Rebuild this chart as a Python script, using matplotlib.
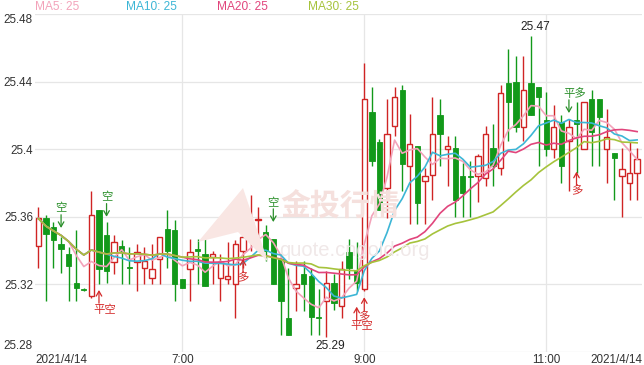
import matplotlib
matplotlib.use('Agg')
import matplotlib.pyplot as plt
import numpy as np
import pandas as pd
from matplotlib.patches import Rectangle, Polygon

# ---------------- data ----------------
opens = [25.343, 25.359, 25.354, 25.344, 25.338, 25.321, 25.3172, 25.313, 25.364, 25.349,
         25.333, 25.343, 25.3302, 25.333, 25.330, 25.324, 25.335, 25.353, 25.352, 25.323,
         25.329, 25.341, 25.338, 25.336, 25.324, 25.323, 25.320, 25.340, 25.354, 25.3584,
         25.351, 25.347, 25.335, 25.300, 25.318, 25.326, 25.325, 25.301, 25.310, 25.321,
         25.307, 25.339, 25.328, 25.317, 25.422, 25.404, 25.377, 25.414, 25.435, 25.390,
         25.402, 25.381, 25.385, 25.420, 25.400, 25.401, 25.384, 25.3842, 25.384, 25.383,
         25.401, 25.389, 25.439, 25.440, 25.413, 25.439, 25.437, 25.417, 25.400, 25.416,
         25.405, 25.417, 25.400, 25.430, 25.430, 25.400, 25.398, 25.384, 25.380, 25.386]
highs = [25.366, 25.361, 25.357, 25.348, 25.342, 25.352, 25.318, 25.375, 25.364, 25.357,
         25.349, 25.346, 25.342, 25.344, 25.342, 25.344, 25.348, 25.364, 25.358, 25.323,
         25.347, 25.347, 25.347, 25.340, 25.338, 25.345, 25.346, 25.356, 25.373, 25.366,
         25.355, 25.347, 25.338, 25.330, 25.334, 25.334, 25.330, 25.317, 25.328, 25.326,
         25.334, 25.347, 25.345, 25.451, 25.437, 25.406, 25.430, 25.437, 25.438, 25.421,
         25.402, 25.389, 25.431, 25.430, 25.408, 25.408, 25.392, 25.393, 25.397, 25.414,
         25.415, 25.438, 25.459, 25.455, 25.455, 25.467, 25.437, 25.434, 25.426, 25.420,
         25.418, 25.428, 25.428, 25.435, 25.430, 25.424, 25.398, 25.401, 25.404, 25.401]
lows = [25.330, 25.310, 25.330, 25.327, 25.310, 25.310, 25.316, 25.312, 25.320, 25.321,
        25.326, 25.320, 25.320, 25.316, 25.320, 25.320, 25.320, 25.330, 25.310, 25.318,
        25.310, 25.320, 25.319, 25.320, 25.310, 25.320, 25.300, 25.330, 25.340, 25.342,
        25.334, 25.320, 25.290, 25.290, 25.304, 25.304, 25.290, 25.290, 25.289, 25.305,
        25.300, 25.323, 25.316, 25.316, 25.390, 25.364, 25.359, 25.408, 25.375, 25.356,
        25.356, 25.356, 25.370, 25.390, 25.378, 25.360, 25.360, 25.360, 25.369, 25.378,
        25.378, 25.385, 25.405, 25.410, 25.405, 25.420, 25.390, 25.396, 25.395, 25.380,
        25.375, 25.386, 25.400, 25.390, 25.390, 25.380, 25.370, 25.360, 25.370, 25.370]
closes = [25.359, 25.350, 25.346, 25.341, 25.331, 25.318, 25.3168, 25.361, 25.329, 25.328,
          25.345, 25.340, 25.3298, 25.339, 25.334, 25.329, 25.348, 25.340, 25.320, 25.318,
          25.339, 25.340, 25.319, 25.338, 25.333, 25.325, 25.344, 25.348, 25.357, 25.3586,
          25.340, 25.320, 25.310, 25.290, 25.320, 25.320, 25.301, 25.300, 25.321, 25.309,
          25.329, 25.330, 25.321, 25.430, 25.393, 25.364, 25.409, 25.431, 25.391, 25.403,
          25.368, 25.384, 25.409, 25.409, 25.402, 25.370, 25.374, 25.3838, 25.396, 25.409,
          25.390, 25.433, 25.428, 25.413, 25.435, 25.420, 25.431, 25.400, 25.413, 25.390,
          25.413, 25.415, 25.428, 25.410, 25.419, 25.407, 25.395, 25.388, 25.386, 25.394]

start_time = '2021-04-14 05:25'
ma_periods = [5, 10, 20, 30]
ma_colors = ['#f3a3ba', '#3db6d6', '#e1457c', '#a6c33c']
legend_values = ['25', '25', '25', '25']
y_ticks = [25.28, 25.32, 25.36, 25.40, 25.44, 25.48]
y_tick_labels = ['25.28', '25.32', '25.36', '25.4', '25.44', '25.48']
x_tick_times = ['07:00', '09:00', '11:00']
x_tick_labels = ['7:00', '9:00', '11:00']
date_label = '2021/4/14'

# trading signals: (candle index, text, arrow direction, arrow tip price)
signals = [
    (3, '空', 'down', 25.3534),
    (9, '空', 'down', 25.3600),
    (8, '平空', 'up', 25.3167),
    (27, '多', 'up', 25.3350),
    (31, '空', 'down', 25.3569),
    (42, '平空', 'up', 25.3068),
    (43, '多', 'up', 25.3124),
    (70, '平多', 'down', 25.4214),
    (71, '多', 'up', 25.3867),
]

# ---------------- style ----------------
RED = '#d02424'
GREEN = '#12991a'
SIG_GREEN = '#2a8f2a'
SIG_RED = '#d42a2a'
W, H = 644, 365
FONT = ['Liberation Sans', 'DejaVu Sans']
CJK = ['Noto Sans CJK SC', 'DejaVu Sans']

fig = plt.figure(figsize=(W / 100, H / 100), dpi=100)
fig.patch.set_facecolor('white')

def fx(px):
    return px / W

def fy(py):
    return 1 - py / H

ax = fig.add_axes([fx(35), fy(352), fx(642) - fx(35), fy(14) - fy(352)])
ax.set_facecolor('none')

n = len(closes)
xs = np.arange(n)
times = pd.date_range(start_time, periods=n, freq='5min')

# watermark (faint logo + text)
fig.patches.append(Polygon([[fx(198), fy(242)], [fx(243), fy(188)], [fx(268), fy(262)],
                            [fx(238), fy(232)]],
                           closed=True, transform=fig.transFigure, facecolor='#f9e6e3',
                           edgecolor='none', zorder=0))
fig.text(fx(340), fy(207), '金投行情', fontsize=21.5, fontweight='bold', color='#f5e0dd',
         family=CJK, ha='center', va='center', zorder=0.2)
fig.text(fx(354), fy(250), 'quote.cngold.org', fontsize=14.5, color='#f0e8e8',
         family=FONT, ha='center', va='center', zorder=0.2)

# candles
bw = 0.7
for i in range(n):
    o, h, l, c = opens[i], highs[i], lows[i], closes[i]
    up = c > o
    col = RED if up else GREEN
    ax.vlines(xs[i], l, h, color=col, lw=1.0, zorder=2)
    lo_b, hi_b = min(o, c), max(o, c)
    bh = max(hi_b - lo_b, 0.0004)
    if up:
        ax.add_patch(Rectangle((xs[i] - bw / 2, lo_b), bw, bh, facecolor='white',
                               edgecolor=col, lw=1.0, zorder=3))
    else:
        ax.add_patch(Rectangle((xs[i] - bw / 2, lo_b), bw, bh, facecolor=col,
                               edgecolor=col, lw=0.6, zorder=3))

# moving averages
cs = pd.Series(closes)
for p, colr in zip(ma_periods, ma_colors):
    ma = cs.rolling(p, min_periods=1).mean()
    ax.plot(xs, ma.values, color=colr, lw=1.2, zorder=4)

# high / low labels
ih = int(np.argmax(highs))
il = int(np.argmin(lows))
ax.annotate(f'{highs[ih]:.2f}', xy=(xs[ih], highs[ih]), xytext=(3, 2), textcoords='offset points',
            ha='center', va='bottom', fontsize=8.6, color='#222222', family=FONT, zorder=6)
ax.annotate(f'{lows[il]:.2f}', xy=(xs[il], lows[il]), xytext=(3, -2), textcoords='offset points',
            ha='center', va='top', fontsize=8.6, color='#222222', family=FONT, zorder=6)

# signals
for idx, txt, d, tip in signals:
    colr = SIG_GREEN if d == 'down' else SIG_RED
    sgn = 1 if d == 'down' else -1
    ax.annotate('', xy=(xs[idx], tip), xytext=(0, sgn * 9.5), textcoords='offset points',
                arrowprops=dict(arrowstyle='->,head_length=0.35,head_width=0.2', color=colr,
                                lw=0.9, shrinkA=0, shrinkB=0), zorder=6)
    ax.annotate(txt, xy=(xs[idx], tip), xytext=(-4.2, sgn * 14), textcoords='offset points',
                ha='left', va='center', fontsize=8.2, color=colr, family=CJK, zorder=6)

# axes
ax.set_xlim(-0.44, 79.64)
ax.set_ylim(25.28, 25.48)
ax.set_yticks(y_ticks)
ax.set_yticklabels(y_tick_labels)
tick_idx = [int(np.where(times.strftime('%H:%M') == t)[0][0]) for t in x_tick_times]
ax.set_xticks(tick_idx)
ax.set_xticklabels(x_tick_labels)
ax.tick_params(axis='both', length=0, labelsize=8.4, labelcolor='#333333')
ax.tick_params(axis='y', pad=1.5)
ax.tick_params(axis='x', pad=1.2)
for lbl in ax.get_yticklabels() + ax.get_xticklabels():
    lbl.set_family(FONT)
ylbls = ax.get_yticklabels()
ylbls[0].set_va('bottom')
ylbls[-1].set_va('top')
for s in ax.spines.values():
    s.set_visible(False)
ax.grid(True, color='#e6e6e6', lw=0.9, zorder=0)
ax.set_axisbelow(True)

ax.text(0, -0.005, date_label, transform=ax.transAxes, ha='left', va='top',
        fontsize=8.4, color='#333333', family=FONT)
ax.text(1, -0.005, date_label, transform=ax.transAxes, ha='right', va='top',
        fontsize=8.4, color='#333333', family=FONT)

# legend header
legend_x = [57, 151, 242, 333]
for p, colr, v, lx in zip(ma_periods, ma_colors, legend_values, legend_x):
    fig.text(fx(lx), fy(7), f'MA{p}: {v}', color=colr, fontsize=8.6, family=FONT,
             ha='center', va='center')

fig.savefig('out.png', dpi=100, facecolor='white')
